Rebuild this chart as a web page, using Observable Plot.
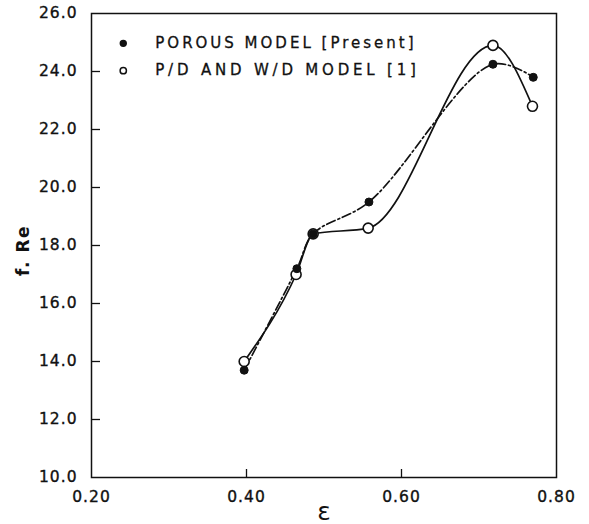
<!DOCTYPE html>
<html>
<head>
<meta charset="utf-8">
<script src="https://cdn.jsdelivr.net/npm/d3@7"></script>
<script src="https://cdn.jsdelivr.net/npm/@observablehq/plot@0.6"></script>
<style>
  html, body { margin: 0; padding: 0; background: #fff; }
  #chart svg { display: block; }
</style>
</head>
<body>
<div id="chart"></div>
<script>
// Porous model (present) – filled circles, dash-dot curve
const porousEps = [0.397, 0.465, 0.486, 0.558, 0.718, 0.770];
const porousFRe = [13.7, 17.2, 18.4, 19.5, 24.25, 23.8];
// P/D and W/D model [1] – open circles, solid curve
const pdEps = [0.397, 0.464, 0.486, 0.557, 0.718, 0.769];
const pdFRe = [14.0, 17.0, 18.4, 18.6, 24.9, 22.8];

const xTicks = [0.20, 0.40, 0.60, 0.80];
const yTicks = [10, 12, 14, 16, 18, 20, 22, 24, 26];

const legendLabels = ["POROUS MODEL [Present]", "P/D AND W/D MODEL [1]"];
const legendFilled = [true, false];
const legendEps = [0.241, 0.241];
const legendFRe = [24.97, 24.03];

const porous = porousEps.map((x, i) => ({x, y: porousFRe[i]}));
const pd = pdEps.map((x, i) => ({x, y: pdFRe[i]}));
const legend = legendLabels.map((label, i) => ({label, filled: legendFilled[i], x: legendEps[i], y: legendFRe[i]}));

const font = "DejaVu Sans";
const tickLenX = 9 / 775;   // ~9px in eps units
const tickLenY = 8 / 29;    // ~8px in f.Re units

const chart = Plot.plot({
  width: 589,
  height: 524,
  marginLeft: 91,
  marginRight: 33,
  marginTop: 13,
  marginBottom: 47,
  style: {fontFamily: font, background: "#fff", color: "#111"},
  x: {domain: [0.2, 0.8]},
  y: {domain: [10, 26]},
  marks: [
    Plot.frame({stroke: "#111", strokeWidth: 1.5}),
    // inward ticks
    Plot.ruleY(yTicks.slice(1, -1), {x1: 0.2, x2: 0.2 + tickLenX, stroke: "#111", strokeWidth: 1.3}),
    Plot.ruleX(xTicks.slice(1, -1), {y1: 10, y2: 10 + tickLenY, stroke: "#111", strokeWidth: 1.3}),
    Plot.axisY({ticks: yTicks, tickSize: 0, tickPadding: 14, tickFormat: d3.format(".1f"),
      fontSize: 15.5, label: null, className: "tl"}),
    Plot.axisX({ticks: xTicks, tickSize: 0, tickPadding: 13, tickFormat: d3.format(".2f"),
      fontSize: 15.5, label: null, className: "tl"}),
    Plot.text(["f. Re"], {frameAnchor: "left", textAnchor: "middle", dx: -68, rotate: -90, fontSize: 17,
      fontWeight: "bold", y: [17.83], className: "yl"}),
    Plot.text(["ε"], {frameAnchor: "bottom", x: [0.5], dy: 42, fontSize: 25}),
    // curves
    Plot.line(pd, {x: "x", y: "y", curve: "monotone-x", stroke: "#111", strokeWidth: 1.7}),
    Plot.line(porous, {x: "x", y: "y", curve: "catmull-rom", stroke: "#111", strokeWidth: 1.7,
      strokeDasharray: "9,3,2,3"}),
    // points
    Plot.dot(pd, {x: "x", y: "y", r: 5, fill: "#fff", stroke: "#111", strokeWidth: 1.6}),
    Plot.dot(porous, {x: "x", y: "y", r: 4, fill: "#111", stroke: "#111", strokeWidth: 1}),
    // legend
    Plot.dot(legend, {x: "x", y: "y", r: d => d.filled ? 3.5 : 4, fill: d => d.filled ? "#111" : "#fff",
      stroke: "#111", strokeWidth: 1.5}),
    Plot.text(legend, {x: "x", y: "y", text: "label", dx: 32, textAnchor: "start", fontSize: 15,
      fill: "#111", className: "lg"})
  ]
});

const svg = d3.select(chart);
svg.selectAll("g.tl text").style("letter-spacing", "1px").attr("stroke", "#111").attr("stroke-width", 0.35);
svg.selectAll("g.yl text").style("letter-spacing", "1.5px");
svg.selectAll("g.lg text").each(function(d, i) {
  d3.select(this).style("letter-spacing", i === 0 ? "3px" : "3.8px");
}).attr("stroke", "#111").attr("stroke-width", 0.3);
document.getElementById("chart").appendChild(chart);
</script>
</body>
</html>
